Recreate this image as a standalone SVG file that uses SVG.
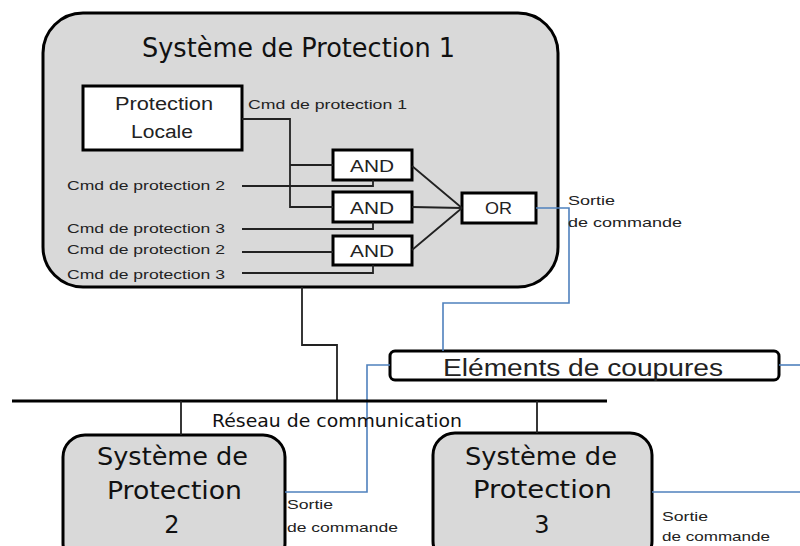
<svg xmlns="http://www.w3.org/2000/svg" width="800" height="546" viewBox="0 0 800 546">
<style>
.sys{fill:#d9d9d9;stroke:#000;stroke-width:3}
.gate{fill:#fff;stroke:#000;stroke-width:3}
.w{fill:none;stroke:#222;stroke-width:1.8}
.b{fill:none;stroke:#4f81bd;stroke-width:1.6}
.net{fill:none;stroke:#000;stroke-width:3}
.c{font-family:"DejaVu Sans",sans-serif;fill:#111}
.s{font-family:"Liberation Sans",Arial,sans-serif;fill:#222}
</style>
<rect width="800" height="546" fill="#fff"/>
<g id="sys1">
<rect class="sys" x="43" y="13" width="515" height="274" rx="40"/>
<text class="c" x="142" y="57" font-size="26" textLength="313" lengthAdjust="spacingAndGlyphs">Système de Protection 1</text>
</g>
<g id="protLocale">
<rect class="gate" x="83" y="86" width="159" height="64"/>
<text class="s" x="115" y="110" font-size="18" textLength="98" lengthAdjust="spacingAndGlyphs">Protection</text>
<text class="s" x="131" y="138" font-size="18" textLength="62" lengthAdjust="spacingAndGlyphs">Locale</text>
</g>
<g id="and1"><rect class="gate" x="333" y="150" width="79" height="30"/><text class="s" x="350" y="172" font-size="17" textLength="44" lengthAdjust="spacingAndGlyphs">AND</text></g>
<g id="and2"><rect class="gate" x="333" y="192" width="79" height="30"/><text class="s" x="350" y="214" font-size="17" textLength="44" lengthAdjust="spacingAndGlyphs">AND</text></g>
<g id="and3"><rect class="gate" x="333" y="236" width="79" height="29"/><text class="s" x="350" y="257" font-size="17" textLength="44" lengthAdjust="spacingAndGlyphs">AND</text></g>
<g id="or"><rect class="gate" x="462" y="193" width="74" height="30"/><text class="s" x="485" y="214" font-size="17" textLength="27" lengthAdjust="spacingAndGlyphs">OR</text></g>
<g id="elements">
<rect x="390" y="351" width="389" height="29" rx="5" fill="#fff" stroke="#000" stroke-width="3"/>
<text class="s" x="443" y="376" font-size="23" textLength="280" lengthAdjust="spacingAndGlyphs">Eléments de coupures</text>
</g>
<g id="sys2">
<rect class="sys" x="63" y="435" width="222" height="130" rx="22"/>
<text class="c" x="97" y="465" font-size="24" textLength="151" lengthAdjust="spacingAndGlyphs">Système de</text>
<text class="c" x="107" y="499" font-size="24" textLength="135" lengthAdjust="spacingAndGlyphs">Protection</text>
<text class="c" x="172" y="533" font-size="24" text-anchor="middle">2</text>
</g>
<g id="sys3">
<rect class="sys" x="433" y="433" width="219" height="130" rx="22"/>
<text class="c" x="465" y="465" font-size="24" textLength="152" lengthAdjust="spacingAndGlyphs">Système de</text>
<text class="c" x="473" y="498" font-size="24" textLength="139" lengthAdjust="spacingAndGlyphs">Protection</text>
<text class="c" x="542" y="533" font-size="24" text-anchor="middle">3</text>
</g>
<g id="connectors">
<path class="w" d="M242,119 H290 V207 H333 M290,165 H333"/>
<path class="w" d="M242,186 H373 V180 M242,229 H373 V222 M242,252 H333 M242,273 H373 V265"/>
<path class="w" d="M412,166 L462,208 M412,207 L462,208 M412,250 L462,208"/>
<path class="b" d="M536,208 H569 V303 H443 V351"/>
<path class="b" d="M779,365 H800"/>
<path class="b" d="M285,492 H367 V365 H390"/>
<path class="b" d="M652,492 H800"/>
<path class="w" d="M302,287 V345 H337 V401" stroke-width="2"/>
<path class="net" d="M12,401 H607"/>
<path class="w" d="M181,401 V435 M537,401 V433" stroke-width="2"/>
</g>
<g id="labels">
<text class="s" x="248" y="109" font-size="13" textLength="159" lengthAdjust="spacingAndGlyphs">Cmd de protection 1</text>
<text class="s" x="67" y="190" font-size="13" textLength="158" lengthAdjust="spacingAndGlyphs">Cmd de protection 2</text>
<text class="s" x="67" y="233" font-size="13" textLength="158" lengthAdjust="spacingAndGlyphs">Cmd de protection 3</text>
<text class="s" x="67" y="254" font-size="13" textLength="158" lengthAdjust="spacingAndGlyphs">Cmd de protection 2</text>
<text class="s" x="67" y="279" font-size="13" textLength="158" lengthAdjust="spacingAndGlyphs">Cmd de protection 3</text>
<text class="s" x="568" y="205" font-size="13" textLength="47" lengthAdjust="spacingAndGlyphs">Sortie</text>
<text class="s" x="568" y="227" font-size="13" textLength="114" lengthAdjust="spacingAndGlyphs">de commande</text>
<text class="s" x="287" y="509" font-size="13" textLength="46" lengthAdjust="spacingAndGlyphs">Sortie</text>
<text class="s" x="287" y="532" font-size="13" textLength="111" lengthAdjust="spacingAndGlyphs">de commande</text>
<text class="s" x="662" y="521" font-size="13" textLength="46" lengthAdjust="spacingAndGlyphs">Sortie</text>
<text class="s" x="662" y="541" font-size="13" textLength="108" lengthAdjust="spacingAndGlyphs">de commande</text>
<text class="c" x="212" y="427" font-size="17" textLength="250" lengthAdjust="spacingAndGlyphs">Réseau de communication</text>
</g>
</svg>
